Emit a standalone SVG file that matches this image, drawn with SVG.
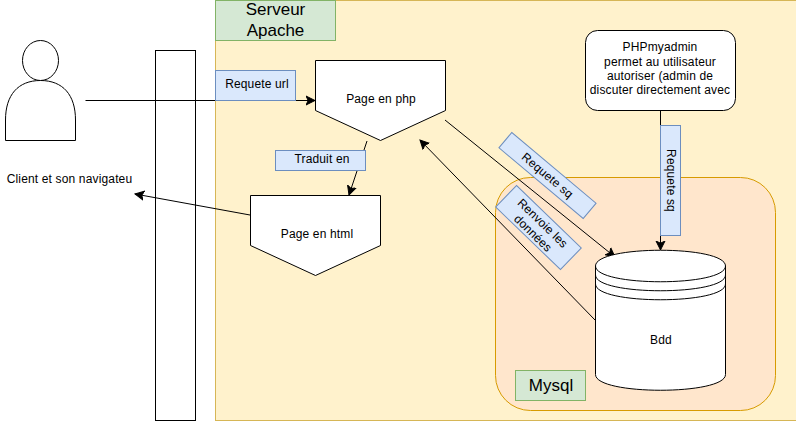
<svg xmlns="http://www.w3.org/2000/svg" width="796" height="421" viewBox="0 0 796 421">
<style>
text{font-family:"Liberation Sans",Arial,sans-serif;font-size:12px;fill:#000;text-anchor:middle;letter-spacing:.15px}
.big{font-size:17px;letter-spacing:0}
.s{fill:#fff;stroke:#000;stroke-width:1}
.n{fill:none;stroke:#000;stroke-width:1}
.lbl{fill:#dae8fc;stroke:#6c8ebf;stroke-width:1}
.grn{fill:#d5e8d4;stroke:#82b366;stroke-width:1}
.c{fill:none;stroke:#000;stroke-width:1;marker-end:url(#a)}
</style>
<defs><marker id="a" markerUnits="userSpaceOnUse" markerWidth="12" markerHeight="12" refX="9" refY="5" orient="auto" viewBox="0 0 12 10"><path d="M0 0.500L9 5L0 9.500L2.200 5Z" fill="#000" stroke="#000"/></marker></defs>
<rect width="796" height="421" fill="#fff"/>
<g id="apache"><rect x="215.500" y="0.500" width="590" height="420" fill="#fff2cc" stroke="#d6b656"/></g>
<g id="apache-label"><rect class="grn" x="215.500" y="0.500" width="120" height="40"/><text class="big" x="275.500" y="15">Serveur</text><text class="big" x="275.500" y="36">Apache</text></g>
<g id="mysql"><rect x="495.500" y="177.500" width="280" height="233" rx="35" fill="#ffe6cc" stroke="#d79b00"/></g>
<g id="browser"><rect class="s" x="155.500" y="50.500" width="40" height="370"/></g>
<g id="client"><ellipse class="s" cx="40.500" cy="60.500" rx="18" ry="20"/><path class="s" d="M5.500 140.500V120C5.500 95 18 80.500 40.500 80.500S75.500 95 75.500 120V140.500Z"/><text x="69.500" y="183">Client et son navigateu</text></g>
<g id="connectors">
<path class="c" d="M85.500 100.500H315"/>
<path class="c" d="M367 141L349 195"/>
<path class="c" d="M250 215L135 194"/>
<path class="c" d="M660.500 110.500V250"/>
<path class="c" d="M445 120L615 257"/>
<path class="c" d="M595 320L420 140"/>
</g>
<g id="page-php"><path class="s" d="M315.500 60.500H445.500V110.500L380.500 140.500L315.500 110.500Z"/><text x="381" y="103">Page en php</text></g>
<g id="page-html"><path class="s" d="M250.500 195.500H380.500V245.500L315.500 275.500L250.500 245.500Z"/><text x="317" y="238">Page en html</text></g>
<g id="phpmyadmin"><rect class="s" x="585.500" y="30.500" width="150" height="80" rx="12"/><text x="660" y="51">PHPmyadmin</text><text x="660" y="66">permet au utilisateur</text><text x="660" y="80">autoriser (admin de</text><text x="660" y="94">discuter directement avec</text></g>
<g id="bdd"><path class="s" d="M595.500 266C595.500 245 725.500 245 725.500 266V374.500C725.500 395.500 595.500 395.500 595.500 374.500Z"/><path class="n" d="M595.500 266C595.500 287 725.500 287 725.500 266M595.500 275C595.500 296 725.500 296 725.500 275M595.500 284C595.500 305 725.500 305 725.500 284"/><text x="661" y="344">Bdd</text></g>
<g id="mysql-label"><rect class="grn" x="515.500" y="370.500" width="70" height="30"/><text class="big" x="551" y="391">Mysql</text></g>
<g id="label-url"><rect class="lbl" x="215.500" y="70.500" width="80" height="30"/><text x="257" y="88">Requete url</text></g>
<g id="label-traduit"><rect class="lbl" x="275.500" y="150.500" width="90" height="20"/><text x="322" y="163">Traduit en</text></g>
<g id="label-sq1" transform="translate(547.500 175.500) rotate(40)"><rect class="lbl" x="-55" y="-10" width="110" height="20"/><text x="0" y="4">Requete sq</text></g>
<g id="label-sq2" transform="translate(670.500 180.500) rotate(90)"><rect class="lbl" x="-55" y="-10" width="110" height="20"/><text x="0" y="4">Requete sq</text></g>
<g id="label-renvoie" transform="translate(538.500 227.500) rotate(44)"><rect class="lbl" x="-45" y="-15" width="90" height="30"/><text x="0" y="-2">Renvoie les</text><text x="0" y="12">données</text></g>
</svg>
